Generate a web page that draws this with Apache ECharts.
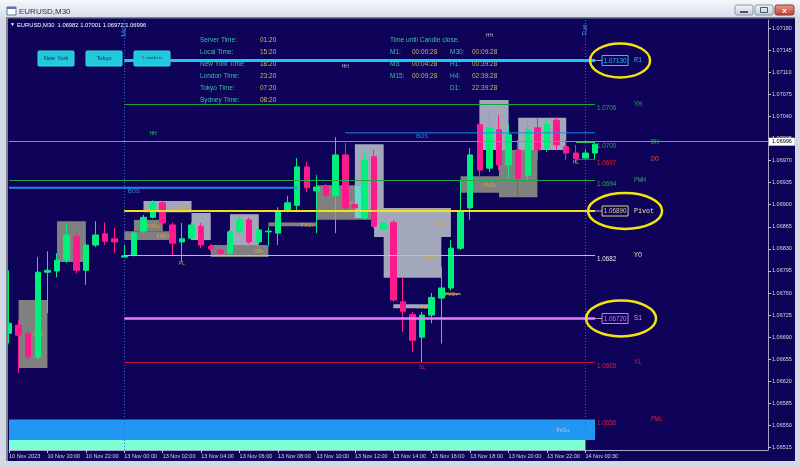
<!DOCTYPE html>
<html><head><meta charset="utf-8">
<script src="https://cdn.jsdelivr.net/npm/echarts@6/dist/echarts.min.js"></script>
<style>html,body{margin:0;padding:0;background:#d9dfe9}#c{width:800px;height:467px}</style>
</head><body><div id="c"></div><script>
// ---------------- DATA ----------------
const categories = ["10 Nov 18:00","10 Nov 18:30","10 Nov 19:00","10 Nov 19:30","10 Nov 20:00","10 Nov 20:30","10 Nov 21:00","10 Nov 21:30","10 Nov 22:00","10 Nov 22:30","10 Nov 23:00","10 Nov 23:30",
"13 Nov 00:00","13 Nov 00:30","13 Nov 01:00","13 Nov 01:30","13 Nov 02:00","13 Nov 02:30","13 Nov 03:00","13 Nov 03:30","13 Nov 04:00","13 Nov 04:30","13 Nov 05:00","13 Nov 05:30",
"13 Nov 06:00","13 Nov 06:30","13 Nov 07:00","13 Nov 07:30","13 Nov 08:00","13 Nov 08:30","13 Nov 09:00","13 Nov 09:30","13 Nov 10:00","13 Nov 10:30","13 Nov 11:00","13 Nov 11:30",
"13 Nov 12:00","13 Nov 12:30","13 Nov 13:00","13 Nov 13:30","13 Nov 14:00","13 Nov 14:30","13 Nov 15:00","13 Nov 15:30","13 Nov 16:00","13 Nov 16:30","13 Nov 17:00","13 Nov 17:30",
"13 Nov 18:00","13 Nov 18:30","13 Nov 19:00","13 Nov 19:30","13 Nov 20:00","13 Nov 20:30","13 Nov 21:00","13 Nov 21:30","13 Nov 22:00","13 Nov 22:30","13 Nov 23:00","13 Nov 23:30",
"14 Nov 00:00","14 Nov 00:30"];
const futureSlots = 18;

const opens  = [1.06696,1.06709,1.06696,1.06658,1.06793,1.06795,1.06812,1.06849,1.06796,1.06836,1.06854,1.06846,
1.06817,1.06820,1.06858,1.06880,1.06903,1.06868,1.06841,1.06847,1.06866,1.06834,1.06828,1.06823,
1.06857,1.06876,1.06841,1.06857,1.06855,1.06890,1.06899,1.06960,1.06922,1.06930,1.06914,1.06979,
1.06900,1.06879,1.06976,1.06861,1.06872,1.06746,1.06726,1.06690,1.06725,1.06752,1.06768,1.06831,
1.06895,1.07027,1.06958,1.07019,1.06963,1.06987,1.06947,1.07022,1.06990,1.07034,1.06992,1.06982,
1.06974,1.06982];
const closes = [1.06712,1.06693,1.06658,1.06793,1.06796,1.06812,1.06852,1.06796,1.06836,1.06852,1.06842,1.06841,
1.06819,1.06855,1.06880,1.06903,1.06871,1.06839,1.06846,1.06868,1.06836,1.06830,1.06823,1.06857,
1.06877,1.06841,1.06860,1.06858,1.06888,1.06903,1.06960,1.06927,1.06928,1.06915,1.06979,1.06895,
1.06895,1.06971,1.06866,1.06871,1.06749,1.06731,1.06685,1.06725,1.06753,1.06768,1.06831,1.06888,
1.06979,1.06955,1.07022,1.06963,1.07011,1.06942,1.07019,1.06987,1.07027,1.06995,1.06982,1.06973,
1.06982,1.06996];
const lows   = [1.06680,1.06633,1.06653,1.06654,1.06728,1.06785,1.06808,1.06791,1.06773,1.06833,1.06836,1.06823,
1.06817,1.06818,1.06855,1.06878,1.06868,1.06820,1.06809,1.06844,1.06831,1.06826,1.06820,1.06820,
1.06852,1.06838,1.06839,1.06836,1.06836,1.06888,1.06888,1.06920,1.06855,1.06912,1.06855,1.06892,
1.06892,1.06876,1.06863,1.06858,1.06746,1.06698,1.06666,1.06650,1.06712,1.06680,1.06764,1.06828,
1.06876,1.06942,1.06952,1.06955,1.06942,1.06915,1.06939,1.06971,1.06984,1.06987,1.06971,1.06968,
1.06971,1.06972];
const highs  = [1.06796,1.06717,1.06700,1.06817,1.06826,1.06823,1.06871,1.06855,1.06839,1.06874,1.06872,1.06863,
1.06836,1.06857,1.06884,1.06907,1.06906,1.06872,1.06871,1.06872,1.06871,1.06838,1.06830,1.06860,
1.06884,1.06880,1.06863,1.06865,1.06896,1.06914,1.06974,1.06968,1.06947,1.06933,1.07007,1.06998,
1.06903,1.06984,1.06987,1.06874,1.06876,1.06785,1.06730,1.06730,1.06760,1.06801,1.06844,1.06939,
1.06990,1.07066,1.07050,1.07042,1.07027,1.07003,1.07038,1.07038,1.07034,1.07038,1.07003,1.06995,
1.06987,1.07001];

const yTicks = [1.06515,1.06550,1.06585,1.06620,1.06655,1.06690,1.06725,1.06760,1.06795,1.06830,
1.06865,1.06900,1.06935,1.06970,1.07005,1.07040,1.07075,1.07110,1.07145,1.07180];
const xTickIdx  = [0,4,8,12,16,20,24,28,32,36,40,44,48,52,56,60];
const xTickText = ["10 Nov 2023","10 Nov 20:00","10 Nov 22:00","13 Nov 00:00","13 Nov 02:00","13 Nov 04:00","13 Nov 06:00","13 Nov 08:00",
"13 Nov 10:00","13 Nov 12:00","13 Nov 14:00","13 Nov 16:00","13 Nov 18:00","13 Nov 20:00","13 Nov 22:00","14 Nov 00:30"];

const lastPrice = 1.06996;
const headerText = "EURUSD,M30  1.06982 1.07001 1.06972 1.06996";

// pivot / day / week levels
const levelNames  = ["R1","YH","DH","DO","PWH","Pivot","YO","S1","YL","PWL"];
const levelPrices = [1.07130,1.07060,1.07000,1.06973,1.06940,1.06890,1.06820,1.06720,1.06650,1.06560];
const levelFrom   = [12,12,59,59,0,12,12,12,12,0];
const levelTo     = [61,61,61,61,61,61,61,61,61,61];

// zones (OB / FVG boxes)
const boxFrom   = [1,5,14,13,12,19,21,23,27,32,36,38,36,39,40,45,47,51,49,53,0,0];
const boxTo     = [4,8,19,16,17,21,27,26,32,38,39,46,37,45,44,47,51,55,52,58,61,60];
const boxTop    = [1.06749,1.06874,1.06906,1.06876,1.06858,1.06887,1.06836,1.06885,1.06872,1.06931,1.06996,1.06895,1.06929,1.06849,1.06742,1.06760,1.06945,1.06987,1.07066,1.07038,1.06560,1.06527];
const boxBottom = [1.06641,1.06809,1.06888,1.06858,1.06844,1.06844,1.06817,1.06836,1.06866,1.06876,1.06892,1.06849,1.06879,1.06784,1.06736,1.06757,1.06919,1.06912,1.06987,1.06987,1.06527,1.06511];
const boxKind   = ["d","d","l","d","d","l","d","l","d","d","l","l","c","l","l","d","d","d","l","l","b","a"];
const boxLabel  = ["OB+","OB-","OB-","FVG+","FVG+","OB-","OB+","OB-","FVG+","OB+","OB-","OB-","FVG-","FVG-","FVG-","FVG+","FVG+","","OB-","OB-","FVG+",""];

// break-of-structure lines
const bosFrom  = [0,35];
const bosTo    = [30,61];
const bosPrice = [1.06927,1.07014];
const bosLabelAt = [13,43];

// small swing tags
const tagIdx   = [50,35,15,18,43,59];
const tagPrice = [1.07169,1.07119,1.07012,1.06806,1.06641,1.06966];
const tagText  = ["HH","HH","HH","FL","SL","HL"];

const separators = [12,60];
const separatorText = ["Mon","Tue"];

const infoLabels = ["Server Time:","Local Time:","New York Time:","London Time:","Tokyo Time:","Sydney Time:"];
const infoValues = ["01:20","15:20","18:20","23:20","07:20","08:20"];
const closeTitle = "Time until Candle close:";
const closeRows = [["M1:","00:00:28","M30:","00:09:28"],["M5:","00:04:28","H1:","00:39:28"],["M15:","00:09:28","H4:","02:39:28"],["","","D1:","22:39:28"]];
const sessionButtons = ["New York","Tokyo","London"];

// ---------------- STYLE ----------------
const NAVY = '#0e0358';
const F = 'Liberation Sans, Arial, sans-serif';
const MONO = 'Liberation Mono, Courier New, monospace';
const BULL = '#00f07e', BEAR = '#ff1a8c';
const BOX_COLORS = {d:'#808080', l:'#a2a7bb', c:'#5cdcd2', b:'#2196f3', a:'#7dffd6'};
const levelStyle = {
  R1:{c:'#1cc8f0', w:3, boxed:true, nc:'#22c0e8', nd:39, ex:25, rx:30, ry:17},
  YH:{c:'#1f9e44', w:1, tc:'#22b04a', nc:'#22b04a', nd:39},
  DH:{c:'#38c060', w:1, tc:'#22b04a', nc:'#22b04a', nd:56},
  DO:{c:'#c82828', w:1, tc:'#e02828', nc:'#e04828', nd:56},
  PWH:{c:'#22a84c', w:1, tc:'#22b04a', nc:'#22b04a', nd:39},
  Pivot:{c:'#f0e020', w:2, boxed:true, nc:'#e8e0a8', bc:'#d8d090', nd:39, ex:30, rx:37, ry:18},
  YO:{c:'#d8cc28', w:1, tc:'#e8e8e8', nc:'#e8e0a8', nd:39},
  S1:{c:'#e080ff', w:2.5, boxed:true, nc:'#e090f0', bc:'#c878f0', nd:39, ex:26, rx:35, ry:18},
  YL:{c:'#c0103c', w:1, tc:'#d8203c', nc:'#d8203c', nd:39},
  PWL:{c:'#c0103c', w:1, tc:'#d8203c', nc:'#d8203c', nd:56}
};

// ---------------- BUILD ----------------
const cats = categories.concat(new Array(futureSlots).fill(''));
const candleData = opens.map((o, i) => [o, closes[i], lows[i], highs[i]]);
const boxData = boxFrom.map((f, i) => [f, boxTo[i], boxTop[i], boxBottom[i]]);
const levelData = levelNames.map((n, i) => [levelFrom[i], levelTo[i], levelPrices[i]]);
const bosData = bosFrom.map((f, i) => [f, bosTo[i], bosPrice[i], bosLabelAt[i]]);
const tagData = tagIdx.map((x, i) => [x, tagPrice[i]]);
const sepData = separators.map(x => [x]);

function rBox(params, api) {
  const i = params.dataIndex;
  const a = api.coord([api.value(0), api.value(2)]);
  const b = api.coord([api.value(1), api.value(3)]);
  const k = boxKind[i];
  const ch = [{type:'rect', shape:{x:a[0], y:a[1], width:b[0]-a[0], height:b[1]-a[1]}, style:{fill:BOX_COLORS[k]}}];
  if (boxLabel[i]) ch.push({type:'text', x:b[0] - (k === 'b' ? 32 : 9), y:(a[1]+b[1])/2 + 1,
    style:{text:boxLabel[i], fill:k === 'b' ? '#c8d0e0' : '#e0a830', font:'5px ' + F, align:'center', verticalAlign:'middle'}});
  return {type:'group', children:ch};
}
function rLevel(params, api) {
  const n = levelNames[params.dataIndex], s = levelStyle[n];
  const p = api.value(2);
  const a = api.coord([api.value(0), p]);
  const b = api.coord([api.value(1), p]);
  const y = Math.round(b[1]) + (s.w % 2 ? 0.5 : 0);
  const ch = [{type:'line', shape:{x1:a[0], y1:y, x2:b[0], y2:y}, style:{stroke:s.c, lineWidth:s.w}}];
  if (s.boxed) {
    ch.push({type:'line', shape:{x1:b[0], y1:y, x2:b[0]+7, y2:y}, style:{stroke:'#a0a0b0', lineWidth:1}});
    ch.push({type:'rect', shape:{x:b[0]+7, y:y-5, width:26, height:10}, style:{fill:NAVY, stroke:s.bc || s.c, lineWidth:1}});
    ch.push({type:'text', x:b[0]+20, y:y+0.5, style:{text:p.toFixed(5), fill:s.bc || s.c, font:'6.3px ' + F, align:'center', verticalAlign:'middle'}});
    ch.push({type:'ellipse', shape:{cx:b[0]+s.ex, cy:y, rx:s.rx, ry:s.ry}, style:{fill:'none', stroke:'#f2e40e', lineWidth:2.5}});
  } else {
    ch.push({type:'text', x:b[0]+2, y:y+4, style:{text:p.toFixed(4), fill:s.tc, font:'6.3px ' + F, align:'left', verticalAlign:'middle'}});
  }
  ch.push({type:'text', x:b[0]+s.nd, y:y, style:{text:n, fill:s.nc, font:'6.7px ' + MONO, align:'left', verticalAlign:'middle'}});
  return {type:'group', children:ch};
}
function rBos(params, api) {
  const p = api.value(2);
  const a = api.coord([api.value(0), p]);
  const b = api.coord([api.value(1), p]);
  const c = api.coord([api.value(3), p]);
  const w = params.dataIndex === 0 ? 2 : 1;
  return {type:'group', children:[
    {type:'line', shape:{x1:a[0], y1:a[1], x2:b[0], y2:b[1]}, style:{stroke:'#1e88e8', lineWidth:w}},
    {type:'text', x:c[0], y:a[1]+4, style:{text:'BOS', fill:'#2a90e8', font:'5.5px ' + F, align:'center', verticalAlign:'middle'}}
  ]};
}
function rTag(params, api) {
  const a = api.coord([api.value(0), api.value(1)]);
  const t = tagText[params.dataIndex];
  const col = t === 'SL' ? '#e03050' : (t === 'FL' || t === 'HL') ? '#e0a030' : (params.dataIndex === 2 ? '#30c060' : '#b8b8c8');
  return {type:'text', x:a[0], y:a[1], style:{text:t, fill:col, font:'5px ' + F, align:'center', verticalAlign:'middle'}};
}
function rSep(params, api) {
  const cs = params.coordSys;
  const a = api.coord([api.value(0), 1.07]);
  const x = Math.round(a[0]) + 0.5;
  return {type:'group', children:[
    {type:'line', shape:{x1:x, y1:cs.y, x2:x, y2:cs.y+cs.height}, style:{stroke:'#2f70d8', lineWidth:1, lineDash:[1,2]}},
    {type:'text', x:x, y:cs.y+10, rotation:Math.PI/2, style:{text:separatorText[params.dataIndex], fill:'#3a86e6', font:'7px ' + F, align:'center', verticalAlign:'middle'}}
  ]};
}

// ---------------- UI graphics ----------------
const ui = [];
ui.push({type:'rect', z:-100, silent:true, shape:{x:8, y:18, width:787, height:443}, style:{fill:NAVY}});
sessionButtons.forEach((t, i) => {
  const x = 38 + i * 48;
  ui.push({type:'rect', z:1, shape:{x:x, y:51, width:36, height:15, r:1}, style:{fill:'#22c9d8', stroke:'#3ad8e6'}});
  ui.push({type:'text', z:1, x:x+18, y:58.5, style:{text:t, fill:'#163070', font:'5.8px ' + F, align:'center', verticalAlign:'middle'}});
});
infoLabels.forEach((t, i) => {
  ui.push({type:'text', z:1, x:200, y:40.7 + 12*i, style:{text:t, fill:'#38c2a2', font:'6.5px ' + F, verticalAlign:'middle'}});
  ui.push({type:'text', z:1, x:260, y:40.7 + 12*i, style:{text:infoValues[i], fill:'#d6b84c', font:'6.5px ' + F, verticalAlign:'middle'}});
});
ui.push({type:'text', z:1, x:390, y:40.7, style:{text:closeTitle, fill:'#38c2a2', font:'6.5px ' + F, verticalAlign:'middle'}});
closeRows.forEach((r, i) => {
  const xs = [390, 412, 450, 472];
  r.forEach((t, j) => {
    if (t) ui.push({type:'text', z:1, x:xs[j], y:52.7 + 12*i, style:{text:t, fill:(j % 2 ? '#c8b060' : '#38c2a2'), font:'6.5px ' + F, verticalAlign:'middle'}});
  });
});
ui.push({type:'text', z:1, x:10, y:25, style:{text:'\u25BC', fill:'#ffffff', font:'5px ' + F, verticalAlign:'middle'}});
ui.push({type:'text', z:1, x:17, y:25, style:{text:headerText, fill:'#ffffff', font:'5.8px ' + F, verticalAlign:'middle'}});
// window chrome
const CH = '#d3d9e5';
ui.push({type:'rect', z:100, shape:{x:0, y:0, width:800, height:18}, style:{fill:new echarts.graphic.LinearGradient(0,0,0,1,[{offset:0,color:'#f4f7fb'},{offset:1,color:'#d6deea'}])}});
ui.push({type:'rect', z:100, shape:{x:0, y:18, width:6, height:449}, style:{fill:CH}});
ui.push({type:'rect', z:100, shape:{x:6, y:17, width:2, height:445}, style:{fill:'#7c8492'}});
ui.push({type:'rect', z:100, shape:{x:6, y:17, width:789, height:1.5}, style:{fill:'#7c8492'}});
ui.push({type:'rect', z:100, shape:{x:795, y:17, width:5, height:450}, style:{fill:CH}});
ui.push({type:'rect', z:100, shape:{x:0, y:461, width:800, height:6}, style:{fill:CH}});
ui.push({type:'rect', z:101, shape:{x:7, y:7, width:9, height:8}, style:{fill:'#ffffff', stroke:'#5a78b0', lineWidth:1}});
ui.push({type:'rect', z:101, shape:{x:7, y:7, width:9, height:2}, style:{fill:'#5a78b0'}});
ui.push({type:'text', z:101, x:19, y:11.5, style:{text:'EURUSD,M30', fill:'#333333', font:'8px ' + F, verticalAlign:'middle'}});
const btnGrad = new echarts.graphic.LinearGradient(0,0,0,1,[{offset:0,color:'#f4f6fa'},{offset:1,color:'#c4ccd8'}]);
ui.push({type:'rect', z:101, shape:{x:735, y:5, width:18, height:10, r:2}, style:{fill:btnGrad, stroke:'#8b95a6'}});
ui.push({type:'rect', z:102, shape:{x:740, y:11, width:8, height:2}, style:{fill:'#4a5468'}});
ui.push({type:'rect', z:101, shape:{x:755, y:5, width:18, height:10, r:2}, style:{fill:btnGrad, stroke:'#8b95a6'}});
ui.push({type:'rect', z:102, shape:{x:760.5, y:7.5, width:7, height:5}, style:{fill:'none', stroke:'#4a5468', lineWidth:1}});
ui.push({type:'rect', z:101, shape:{x:775, y:5, width:19, height:10, r:2}, style:{fill:new echarts.graphic.LinearGradient(0,0,0,1,[{offset:0,color:'#e8a090'},{offset:1,color:'#c0392b'}]), stroke:'#8a3b30'}});
ui.push({type:'text', z:102, x:784.5, y:10.5, style:{text:'x', fill:'#ffffff', font:'bold 8px ' + F, align:'center', verticalAlign:'middle'}});

// ---------------- OPTION ----------------
const option = {
  backgroundColor:'#d9dfe9',
  animation:false,
  grid:{left:9, right:32, top:20, bottom:17},
  xAxis:{type:'category', data:cats, boundaryGap:false,
    axisLine:{show:true, lineStyle:{color:'#a4a4c4', width:1}},
    axisTick:{show:true, interval:(i) => xTickIdx.indexOf(i) >= 0, length:3, lineStyle:{color:'#c0c0d8'}},
    axisLabel:{interval:(i) => xTickIdx.indexOf(i) >= 0, formatter:(v, i) => xTickText[xTickIdx.indexOf(i)] || '',
      align:'left', color:'#d8d8e8', fontSize:5.5, fontFamily:F, margin:3},
    splitLine:{show:false}},
  yAxis:{type:'value', position:'right', min:1.06511, max:1.07193,
    axisLine:{show:true, lineStyle:{color:'#a4a4c4'}},
    axisTick:{show:true, customValues:yTicks, length:3, lineStyle:{color:'#c0c0d8'}},
    axisLabel:{customValues:yTicks, formatter:(v) => v.toFixed(5), color:'#d8d8e8', fontSize:5.5, fontFamily:F, margin:4},
    splitLine:{show:false}},
  series:[
    {type:'custom', name:'zones', z:1, clip:true, data:boxData, encode:{x:0, y:2}, renderItem:rBox, silent:true},
    {type:'custom', name:'separators', z:2, data:sepData, encode:{x:0}, renderItem:rSep, silent:true},
    {type:'candlestick', name:'EURUSD', z:3, data:candleData, barWidth:6,
      itemStyle:{color:BULL, color0:BEAR, borderColor:BULL, borderColor0:BEAR, borderWidth:1},
      markLine:{silent:true, symbol:['none','none'], data:[{yAxis:lastPrice}],
        lineStyle:{color:'#8a8ac2', width:1, type:'solid'},
        label:{show:true, position:'end', distance:1, formatter:lastPrice.toFixed(5), backgroundColor:'#ffffff', color:'#000000', fontSize:5.5, fontFamily:F, padding:[1,3]}}},
    {type:'custom', name:'bos', z:4, data:bosData, encode:{x:0, y:2}, renderItem:rBos, silent:true},
    {type:'custom', name:'levels', z:5, data:levelData, encode:{x:0, y:2}, renderItem:rLevel, silent:true},
    {type:'custom', name:'tags', z:6, data:tagData, encode:{x:0, y:1}, renderItem:rTag, silent:true}
  ],
  graphic:{elements:ui}
};
const chart = echarts.init(document.getElementById('c'), null, {renderer:'canvas', width:800, height:467});
chart.setOption(option);
</script></body></html>
